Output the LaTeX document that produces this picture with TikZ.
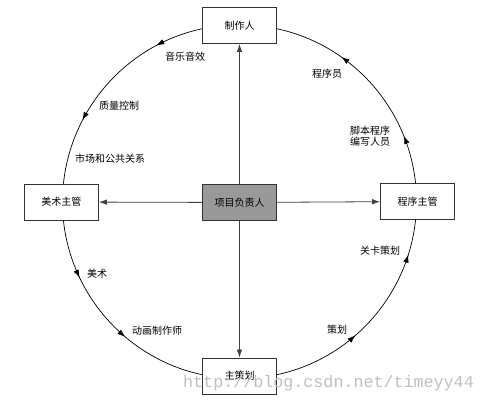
\documentclass[tikz,border=0pt]{standalone}
\usepackage{fontspec}
\setmainfont{Noto Sans CJK SC}
\newfontfamily\urlfont{Liberation Mono}
\usetikzlibrary{arrows.meta,decorations.markings}
\tikzstyle{box}=[rectangle,fill=white,minimum width=74pt,minimum height=36pt,inner sep=0pt,line width=0.8pt,draw=black!80,anchor=center,font=\fontsize{10}{12}\selectfont]
\tikzstyle{annot}=[align=center,inner sep=0pt,font=\fontsize{10}{12}\selectfont]
\tikzstyle{spoke}=[draw=black!75,line width=0.8pt,-{Latex[length=8pt,width=5.5pt]}]
\tikzset{flow/.style 2 args={draw=black,line width=0.7pt,looseness=0.94,postaction={decorate},
  decoration={markings,
    mark=at position #1 with {\arrow{Latex[length=8pt,width=5.5pt]}},
    mark=at position #2 with {\arrow{Latex[length=8pt,width=5.5pt]}}}}}

\begin{document}
\begin{tikzpicture}[x=1pt,y=1pt]
	\useasboundingbox (0,0) rectangle (485,401);

	\node[box](zhizuo) at (239.5,375.5){制作人};
	\node[box](meishu) at (61.5,199){美术主管};
	\node[box, fill=black!40](xiangmu) at (239.5,198.5){项目负责人};
	\node[box](chengxu) at (417.5,199.5){程序主管};
	\node[box](zhuce) at (239.5,25){主策划};

	\draw[spoke] (xiangmu) -- (zhizuo);
	\draw[spoke] (xiangmu) -- (meishu);
	\draw[spoke] (xiangmu) -- (chengxu);
	\draw[spoke] (xiangmu) -- (zhuce);

	% outer ring
	\draw[flow={0.22}{0.7}] (zhizuo.185) to[out=192, in=84] (meishu.84);
	\draw[flow={0.27}{0.61}] (meishu.276) to[out=276, in=168] (zhuce.178);
	\draw[flow={0.4}{0.84}] (zhuce.2) to[out=12, in=264] (chengxu.264);
	\draw[flow={0.22}{0.68}] (chengxu.96) to[out=96, in=348] (zhizuo.355);

	\node[annot] (yinyue) at (185,344){音乐音效};
	\node[annot] (zhiliang) at (119,295){质量控制};
	\node[annot] (shichang) at (110,242){市场和公共关系};
	\node[annot] (meishulbl) at (97,127){美术};
	\node[annot] (donghua) at (157,70){动画制作师};
	\node[annot] (cehua) at (337,71){策划};
	\node[annot] (guanka) at (380,150){关卡策划};
	\node[annot] (chengxuyuan) at (327,327){程序员};
	\node[annot] (jiaoben) at (370,264.5){脚本程序\\[-1pt]编写人员};

	%\node[annot] at (328,20){};
	\node[anchor=base west, inner sep=0pt, text=black!25, font=\urlfont\fontsize{16.7}{18}\selectfont] (mark) at (183,13){http://blog.csdn.net/timeyy44};
\end{tikzpicture}
\end{document}
